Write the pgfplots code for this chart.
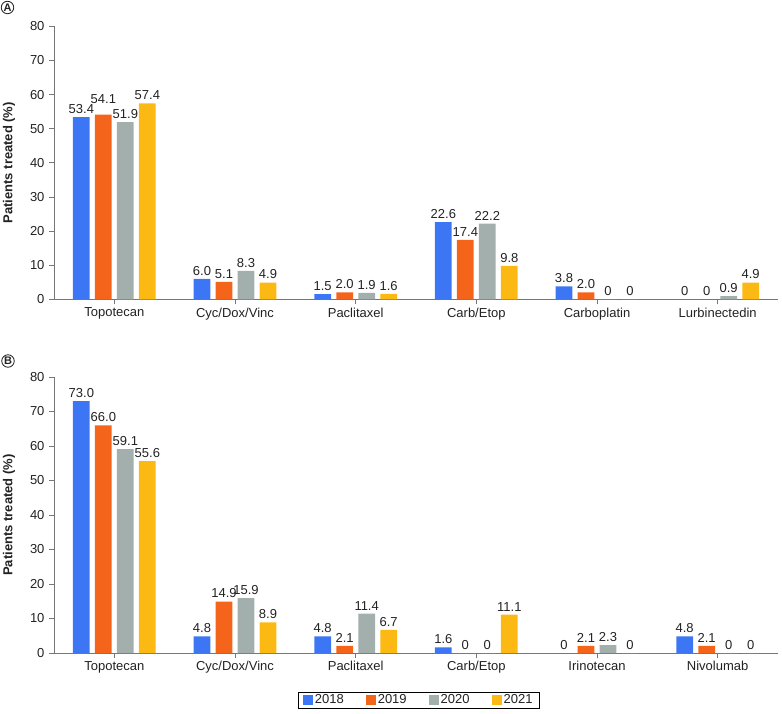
\documentclass[border=0pt]{standalone}
\usepackage{fontspec}
\setmainfont{Liberation Sans}
\usepackage{pgfplots}
\usepackage{pgfplotstable}
\pgfplotsset{compat=1.18}
\definecolor{c18}{HTML}{3D76F4}
\definecolor{c19}{HTML}{F4641B}
\definecolor{c20}{HTML}{A3AFAD}
\definecolor{c21}{HTML}{FDB913}
\definecolor{axgray}{HTML}{777777}
\definecolor{txt}{HTML}{222222}

\pgfplotstableread{
x a l18 b l19 sb c l20 d l21
0 53.4 53.4 54.1 54.1 8 51.9 51.9 57.4 57.4
1 6.0 6.0 5.1 5.1 0 8.3 8.3 4.9 4.9
2 1.5 1.5 2.0 2.0 0 1.9 1.9 1.6 1.6
3 22.6 22.6 17.4 17.4 0 22.2 22.2 9.8 9.8
4 3.8 3.8 2.0 2.0 0 0 0 0 0
5 0 0 0 0 0 0.9 0.9 4.9 4.9
}\dataA

\pgfplotstableread{
x a l18 b l19 c l20 d l21
0 73.0 73.0 66.0 66.0 59.1 59.1 55.6 55.6
1 4.8 4.8 14.9 14.9 15.9 15.9 8.9 8.9
2 4.8 4.8 2.1 2.1 11.4 11.4 6.7 6.7
3 1.6 1.6 0 0 0 0 11.1 11.1
4 0 0 2.1 2.1 2.3 2.3 0 0
5 4.8 4.8 2.1 2.1 0 0 0 0
}\dataB

\pgfplotsset{
  mybar/.style={
    scale only axis, width=724pt,
    xmin=-0.5, xmax=5.5, ymin=0, ymax=80,
    ybar=5.3pt, bar width=16.7pt,
    axis x line*=bottom, axis y line*=left,
    axis line style={color=axgray, line width=0.8pt, -},
    xtick={0,...,5}, ytick={0,10,...,80},
    tick align=outside, major tick length=5pt,
    tick style={color=axgray, line width=0.8pt},
    ticklabel style={font=\fontsize{13}{15}\selectfont, text=txt},
    /pgf/number format/assume math mode=true,
    yticklabel style={xshift=-1pt},
    ylabel={\bfseries Patients treated (\%)},
    every axis y label/.style={at={(axis description cs:-0.0622,0.5)}, anchor=center, rotate=90, font=\fontsize{13}{15}\selectfont, text=txt},
    nodes near coords, point meta=explicit symbolic,
    every node near coord/.append style={font=\fontsize{13}{15}\selectfont, text=txt},
    every axis plot post/.append style={draw=none, legend image code/.code={\fill[##1] (0pt,-5pt) rectangle (10pt,5pt);}},
  }
}

\begin{document}
\begin{tikzpicture}
\path[use as bounding box] (-54pt,-60pt) rectangle (728pt,653pt);
% Panel A
\begin{axis}[mybar, height=273pt, at={(0pt,353.7pt)}, anchor=south west,
  xticklabels={Topotecan,Cyc/Dox/Vinc,Paclitaxel,Carb/Etop,Carboplatin,Lurbinectedin}]
\addplot[fill=c18] table[x=x,y=a,meta=l18]{\dataA};
\addplot[fill=c19, visualization depends on={\thisrow{sb} \as \myshift},
  every node near coord/.append style={yshift=\myshift pt}] table[x=x,y=b,meta=l19]{\dataA};
\addplot[fill=c20] table[x=x,y=c,meta=l20]{\dataA};
\addplot[fill=c21] table[x=x,y=d,meta=l21]{\dataA};
\end{axis}
% Panel B
\begin{axis}[mybar, height=276pt, at={(0pt,0pt)}, anchor=south west,
  xticklabels={Topotecan,Cyc/Dox/Vinc,Paclitaxel,Carb/Etop,Irinotecan,Nivolumab},
  legend columns=4,
  legend style={at={(axis description cs:0.5,0)}, anchor=north, yshift=-39pt, xshift=2.7pt,
    draw=black, line width=0.6pt, font=\fontsize{13}{15}\selectfont, text=txt,
    inner xsep=5pt, inner ysep=0.5pt,
    /tikz/every odd column/.append style={column sep=0pt},
    /tikz/every even column/.append style={column sep=20pt}},
  ]
\addplot[fill=c18] table[x=x,y=a,meta=l18]{\dataB};
\addplot[fill=c19] table[x=x,y=b,meta=l19]{\dataB};
\addplot[fill=c20] table[x=x,y=c,meta=l20]{\dataB};
\addplot[fill=c21] table[x=x,y=d,meta=l21]{\dataB};
\legend{2018,2019,2020,2021}
\end{axis}
\node[draw=txt, circle, line width=0.8pt, inner sep=0pt, minimum size=12.5pt, font=\bfseries\fontsize{11}{12}\selectfont, text=txt] at (-46.5pt,645.5pt) {A};
\node[draw=txt, circle, line width=0.8pt, inner sep=0pt, minimum size=12.5pt, font=\bfseries\fontsize{11}{12}\selectfont, text=txt] at (-46pt,292pt) {B};
\end{tikzpicture}
\end{document}
